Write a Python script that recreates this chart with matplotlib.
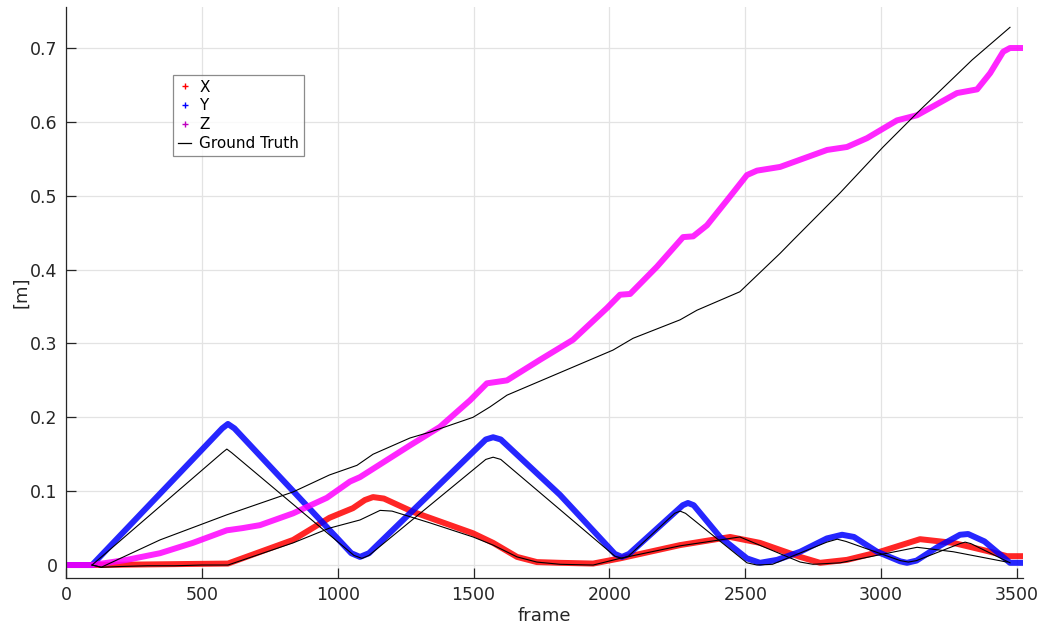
import matplotlib
matplotlib.use("Agg")
import matplotlib.pyplot as plt
from matplotlib.lines import Line2D

# estimated position components per frame
x_frames = [0, 96, 596, 836, 970, 1056, 1100, 1130, 1170, 1277, 1498, 1572, 1660, 1733, 1818,
            1940, 2039, 2260, 2444, 2554, 2702, 2775, 2874, 2996, 3143, 3265, 3390, 3463, 3522]
x_vals = [0, 0, 0.002, 0.034, 0.064, 0.077, 0.088, 0.092, 0.090, 0.072, 0.043, 0.030, 0.011, 0.004, 0.003,
          0.002, 0.009, 0.027, 0.038, 0.030, 0.011, 0.003, 0.007, 0.018, 0.035, 0.030, 0.019, 0.012, 0.012]

y_frames = [0, 96, 575, 596, 620, 1050, 1082, 1115, 1545, 1572, 1600, 1818, 2020, 2046, 2072,
            2270, 2289, 2310, 2407, 2506, 2554, 2617, 2702, 2800, 2856, 2900, 2985, 3070, 3095,
            3130, 3206, 3290, 3320, 3380, 3474, 3522]
y_vals = [0, 0, 0.185, 0.191, 0.185, 0.016, 0.011, 0.016, 0.170, 0.173, 0.170, 0.095, 0.015, 0.011, 0.015,
          0.081, 0.084, 0.081, 0.038, 0.009, 0.003, 0.007, 0.018, 0.036, 0.041, 0.038, 0.018, 0.005, 0.003,
          0.006, 0.024, 0.041, 0.042, 0.032, 0.003, 0.003]

z_frames = [0, 96, 224, 346, 467, 592, 650, 714, 836, 960, 1045, 1082, 1266, 1376, 1487, 1549, 1623,
            1745, 1866, 1991, 2039, 2076, 2175, 2271, 2308, 2359, 2433, 2506, 2543, 2628, 2801, 2874,
            2948, 3058, 3132, 3279, 3353, 3401, 3449, 3474, 3522]
z_vals = [0, 0, 0.007, 0.016, 0.030, 0.047, 0.050, 0.054, 0.070, 0.091, 0.113, 0.119, 0.162, 0.187, 0.223,
          0.246, 0.250, 0.278, 0.305, 0.348, 0.366, 0.367, 0.404, 0.444, 0.445, 0.460, 0.494, 0.528, 0.534,
          0.539, 0.562, 0.566, 0.578, 0.602, 0.609, 0.639, 0.644, 0.666, 0.695, 0.700, 0.700]

# ground truth
gt_x_frames = [96, 130, 200, 300, 400, 500, 596, 836, 970, 1082, 1156, 1200, 1340, 1498, 1572, 1660,
               1733, 1818, 1940, 2039, 2260, 2480, 2702, 2749, 2849, 2996, 3132, 3265, 3463]
gt_x_vals = [0, -0.003, -0.002, -0.001, -0.001, 0.0, 0.0, 0.030, 0.050, 0.061, 0.074, 0.073, 0.057, 0.038,
             0.027, 0.011, 0.004, 0.001, 0.0, 0.009, 0.026, 0.038, 0.004, 0.001, 0.003, 0.014, 0.024, 0.018,
             0.004]

gt_y_frames = [96, 575, 592, 610, 1060, 1089, 1115, 1545, 1572, 1600, 2020, 2046, 2070, 2240, 2260, 2280,
               2506, 2543, 2600, 2800, 2838, 2870, 3070, 3100, 3130, 3290, 3309, 3330, 3474]
gt_y_vals = [0, 0.152, 0.157, 0.152, 0.013, 0.009, 0.013, 0.143, 0.146, 0.143, 0.012, 0.009, 0.012, 0.070,
             0.073, 0.070, 0.003, 0.0, 0.001, 0.031, 0.035, 0.032, 0.006, 0.004, 0.006, 0.029, 0.031, 0.029,
             0.003]

gt_z_frames = [96, 130, 346, 592, 836, 970, 1071, 1130, 1266, 1340, 1498, 1560, 1623, 2013, 2087, 2260,
               2322, 2480, 2517, 2628, 2676, 2849, 3007, 3143, 3335, 3474]
gt_z_vals = [0, -0.003, 0.034, 0.068, 0.099, 0.122, 0.135, 0.150, 0.172, 0.180, 0.200, 0.214, 0.230, 0.291,
             0.307, 0.332, 0.345, 0.370, 0.383, 0.422, 0.440, 0.504, 0.566, 0.616, 0.684, 0.728]

txt = '#262626'
plt.rcParams['font.family'] = 'DejaVu Sans'

fig = plt.figure(figsize=(10.42, 6.27), dpi=100)
ax = fig.add_axes([0.0633, 0.0781, 0.9185, 0.9107])

est_kw = dict(lw=4.3, solid_capstyle='round', solid_joinstyle='round', alpha=0.85)
ax.plot(x_frames, x_vals, color=(1, 0, 0), **est_kw)
ax.plot(y_frames, y_vals, color=(0, 0, 1), **est_kw)
ax.plot(z_frames, z_vals, color=(1, 0, 1), **est_kw)

gt_kw = dict(color='k', lw=0.8)
ax.plot(gt_x_frames, gt_x_vals, **gt_kw)
ax.plot(gt_y_frames, gt_y_vals, **gt_kw)
ax.plot(gt_z_frames, gt_z_vals, **gt_kw)

ax.set_xlim(0, 3522)
ax.set_ylim(-0.0176, 0.7555)
ax.set_xticks(range(0, 3501, 500))
ax.set_yticks([0, 0.1, 0.2, 0.3, 0.4, 0.5, 0.6, 0.7])
ax.set_yticklabels(['0', '0.1', '0.2', '0.3', '0.4', '0.5', '0.6', '0.7'])
ax.grid(True, color='#e3e3e3', lw=0.9)
ax.set_axisbelow(True)

for side in ['top', 'right']:
    ax.spines[side].set_visible(False)
for side in ['left', 'bottom']:
    ax.spines[side].set_color(txt)
    ax.spines[side].set_linewidth(0.9)
ax.tick_params(direction='in', length=7, width=0.9, color=txt, labelcolor=txt, labelsize=12.5, pad=6)

ax.set_xlabel('frame', fontsize=13, color=txt, labelpad=2)
ax.set_ylabel('[m]', fontsize=13, color=txt, labelpad=0)

handles = [
    Line2D([], [], ls='none', marker='+', color='r', markersize=5),
    Line2D([], [], ls='none', marker='+', color='b', markersize=5),
    Line2D([], [], ls='none', marker='+', color='m', markersize=5),
    Line2D([], [], color='k', lw=0.9),
]
leg = ax.legend(handles, ['X', 'Y', 'Z', 'Ground Truth'], loc='upper left',
                bbox_to_anchor=(0.112, 0.881), fontsize=11, frameon=True, fancybox=False,
                handlelength=0.9, handletextpad=0.5, borderpad=0.3, labelspacing=0.25,
                borderaxespad=0)
leg.get_frame().set_edgecolor('#6e6e6e')
leg.get_frame().set_linewidth(0.9)
for t in leg.get_texts():
    t.set_color('k')

fig.savefig('out.png', dpi=100)
